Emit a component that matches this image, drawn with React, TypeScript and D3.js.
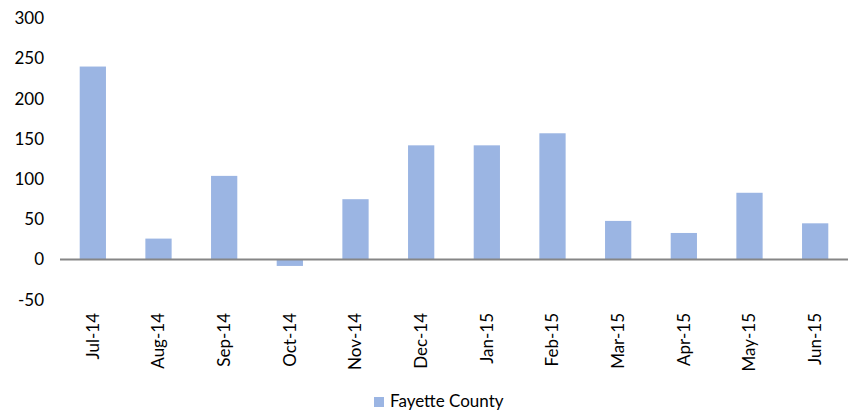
import * as d3 from 'd3';
import { useEffect, useRef } from 'react';

const months = ['Jul-14', 'Aug-14', 'Sep-14', 'Oct-14', 'Nov-14', 'Dec-14', 'Jan-15', 'Feb-15', 'Mar-15', 'Apr-15', 'May-15', 'Jun-15'];
const fayetteValues = [240, 26, 104, -8, 75, 142, 142, 157, 48, 33, 83, 45];
const yTicks = [-50, 0, 50, 100, 150, 200, 250, 300];
const seriesName = 'Fayette County';

export default function App() {
  const svgRef = useRef<SVGSVGElement>(null);
  const width = 853;
  const height = 413;

  useEffect(() => {
    if (!svgRef.current) return;
    document.body.style.margin = '0';

    const svg = d3.select(svgRef.current);
    svg.selectAll('*').remove();

    const font = 'Lato, "Open Sans", sans-serif';
    const barColor = '#9bb5e3';

    // Scales
    const x = d3.scaleBand()
      .domain(months)
      .range([60, 848])
      .paddingInner(0.6)
      .paddingOuter(0.3);

    const y = d3.scaleLinear()
      .domain([-50, 300])
      .range([299.7, 18.3]);

    // Y tick labels (no gridlines, no axis line)
    svg.append('g')
      .selectAll('text')
      .data(yTicks)
      .enter()
      .append('text')
      .attr('x', 44)
      .attr('y', d => y(d))
      .attr('dy', '0.35em')
      .attr('text-anchor', 'end')
      .style('font-family', font)
      .style('font-size', '17px')
      .style('fill', '#000')
      .text(d => String(d));

    // Bars
    svg.append('g')
      .selectAll('rect')
      .data(fayetteValues)
      .enter()
      .append('rect')
      .attr('x', (d, i) => x(months[i]) || 0)
      .attr('y', d => y(Math.max(0, d)))
      .attr('width', x.bandwidth())
      .attr('height', d => Math.abs(y(d) - y(0)))
      .attr('fill', barColor);

    // Zero line
    svg.append('line')
      .attr('x1', 60)
      .attr('x2', 848)
      .attr('y1', y(0))
      .attr('y2', y(0))
      .attr('stroke', '#868686')
      .attr('stroke-width', 2);

    // Rotated category labels
    svg.append('g')
      .selectAll('text')
      .data(months)
      .enter()
      .append('text')
      .attr('transform', d => `translate(${(x(d) || 0) + x.bandwidth() / 2},313) rotate(-90)`)
      .attr('dy', '0.35em')
      .attr('text-anchor', 'end')
      .style('font-family', font)
      .style('font-size', '17px')
      .style('fill', '#000')
      .text(d => d);

    // Legend
    const legend = svg.append('g');
    legend.append('rect')
      .attr('x', 374)
      .attr('y', 397)
      .attr('width', 10)
      .attr('height', 10)
      .attr('fill', barColor);
    legend.append('text')
      .attr('x', 390)
      .attr('y', 407)
      .style('font-family', font)
      .style('font-size', '17px')
      .style('fill', '#000')
      .text(seriesName);
  }, []);

  return (
    <svg
      ref={svgRef}
      width={width}
      height={height}
      style={{ display: 'block', background: '#fff' }}
    ></svg>
  );
}
